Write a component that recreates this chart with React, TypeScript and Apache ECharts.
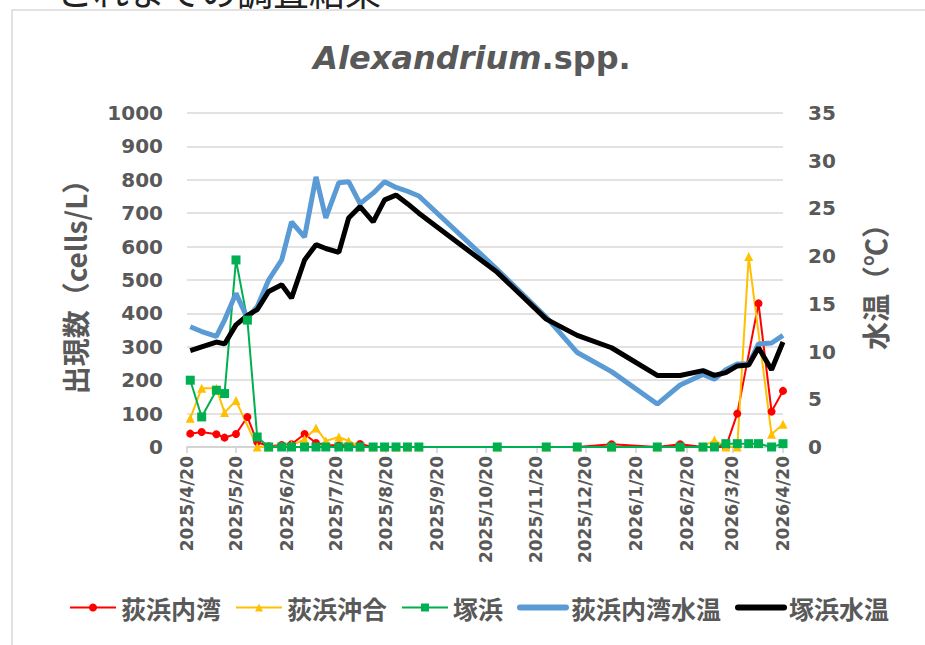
import React, { useEffect, useRef } from "react";
import * as echarts from "echarts";

// Sampling dates
const sampleDates = [
  "2025-04-22", "2025-04-29", "2025-05-08", "2025-05-13", "2025-05-20", "2025-05-27",
  "2025-06-02", "2025-06-09", "2025-06-17", "2025-06-23", "2025-07-01", "2025-07-08",
  "2025-07-14", "2025-07-22", "2025-07-28", "2025-08-04", "2025-08-12", "2025-08-19",
  "2025-08-26", "2025-09-02", "2025-09-09", "2025-10-27", "2025-11-26", "2025-12-15",
  "2026-01-05", "2026-02-02", "2026-02-16", "2026-03-02", "2026-03-09", "2026-03-16",
  "2026-03-23", "2026-03-30", "2026-04-05", "2026-04-13", "2026-04-20",
];

// 荻浜内湾 (cells/L)
const ogiInner = [
  40, 45, 38, 28, 39, 90, 15, 2, 6, 8, 39, 12, 6, 5, 5, 9, 0, 0, 0, 0, 0,
  0, 0, 0, 8, 0, 8, 0, 0, 0, 100, null, 430, 106, 168,
];
// 荻浜沖合 (cells/L)
const ogiOffshore = [
  86, 176, 176, 103, 139, null, 0, 0, 2, 5, 23, 57, 18, 30, 18, 0, 0, 0, 0, 0, 0,
  0, 0, 0, 0, 0, 0, 0, 21, 0, 0, 570, null, 38, 68,
];
// 塚浜 (cells/L)
const tsukahama = [
  200, 90, 170, 160, 560, 380, 30, 0, 0, 0, 0, 0, 0, 0, 0, 0, 0, 0, 0, 0, 0,
  0, 0, 0, 0, 0, 0, 0, 0, 10, 10, 10, 10, 0, 10,
];
// 荻浜内湾水温 (℃)
const ogiInnerTemp = [
  12.6, 12.1, 11.6, 13.3, 16.1, 13.5, 14.7, 17.5, 19.6, 23.6, 22.0, 28.3, 24.0, 27.7,
  27.8, 25.5, 26.6, 27.8, 27.2, 26.8, 26.3, 18.6, 13.6, 9.9, 7.9, 4.5, 6.5, 7.6, 7.1,
  8.1, 8.7, 8.7, 10.8, 10.9, 11.7,
];
// 塚浜水温 (℃)
const tsukaTemp = [
  10.1, 10.5, 11.0, 10.8, 12.8, 13.8, 14.4, 16.3, 17.0, 15.6, 19.6, 21.2, 20.8, 20.4,
  24.0, 25.2, 23.6, 25.9, 26.4, 25.5, 24.5, 18.3, 13.4, 11.7, 10.4, 7.5, 7.5, 8.0, 7.5,
  7.8, 8.5, 8.6, 10.4, 8.1, 11.0,
];

// Axis tick dates
const tickDates = [
  "2025-04-20", "2025-05-20", "2025-06-20", "2025-07-20", "2025-08-20", "2025-09-20",
  "2025-10-20", "2025-11-20", "2025-12-20", "2026-01-20", "2026-02-20", "2026-03-20",
  "2026-04-20",
];

const seriesNames = ["荻浜内湾", "荻浜沖合", "塚浜", "荻浜内湾水温", "塚浜水温"];
const titleMain = "Alexandrium";
const titleSuffix = ".spp.";
const headingText = "これまでの調査結果";
const leftAxisName = "出現数（cells/L）";
const rightAxisName = "水温（℃）";

const DAY = 86400000;
function utc(s: string): number {
  const [y, m, d] = s.split("-").map(Number);
  return Date.UTC(y, m - 1, d);
}
const BASE = utc(tickDates[0]);
function dayOf(s: string): number {
  return Math.round((utc(s) - BASE) / DAY);
}

function pairs(vals: (number | null)[]) {
  const out: [number, number][] = [];
  sampleDates.forEach((d, i) => {
    const v = vals[i];
    if (v !== null && v !== undefined) out.push([dayOf(d), v]);
  });
  return out;
}

const GRAY = "#595959";
const LAT = "DejaVu Sans, Noto Sans CJK JP, sans-serif";
const CJK = "Noto Sans CJK JP, DejaVu Sans, sans-serif";

export default function App() {
  const ref = useRef<HTMLDivElement>(null);
  useEffect(() => {
    if (!ref.current) return;
    const chart = echarts.init(ref.current, undefined, { renderer: "svg" });
    const ticks = tickDates.map(dayOf);
    const fmt = (v: number) => {
      const d = new Date(BASE + Math.round(v) * DAY);
      return `${d.getUTCFullYear()}/${d.getUTCMonth() + 1}/${d.getUTCDate()}`;
    };
    chart.setOption({
      animation: false,
      backgroundColor: "#ffffff",
      graphic: [
        {
          type: "rect",
          shape: { x: 12, y: 10, width: 1000, height: 800 },
          style: { fill: "none", stroke: "#d9d9d9", lineWidth: 1.5 },
          z: 0,
        },
        {
          type: "text",
          x: 57,
          y: 8,
          style: {
            text: headingText,
            font: `normal 36px ${CJK}`,
            fill: "#222222",
            textAlign: "left",
            textVerticalAlign: "bottom",
          },
        },
        {
          type: "text",
          x: 472,
          y: 58,
          style: {
            text: `{a|${titleMain}}{b|${titleSuffix}}`,
            textAlign: "center",
            textVerticalAlign: "middle",
            rich: {
              a: { fontFamily: LAT, fontSize: 32, fontWeight: "bold", fontStyle: "italic", fill: GRAY },
              b: { fontFamily: LAT, fontSize: 32, fontWeight: "bold", fill: GRAY },
            },
          },
        },
      ],
      legend: {
        left: 64,
        top: 590,
        itemGap: 14,
        itemWidth: 46,
        itemHeight: 10,
        textStyle: { color: GRAY, fontSize: 25, fontWeight: "bold", fontFamily: CJK },
        data: [
          { name: seriesNames[0], lineStyle: { width: 2 } },
          { name: seriesNames[1], lineStyle: { width: 2 } },
          { name: seriesNames[2], lineStyle: { width: 2 } },
          { name: seriesNames[3], itemStyle: { opacity: 0 }, lineStyle: { width: 6, cap: "round" } },
          { name: seriesNames[4], itemStyle: { opacity: 0 }, lineStyle: { width: 6, cap: "round" } },
        ],
      },
      grid: { left: 187, right: 142, top: 113, bottom: 198 },
      xAxis: {
        type: "value",
        min: ticks[0],
        max: ticks[ticks.length - 1],
        axisLine: { show: true, onZero: false, lineStyle: { color: "#d0d0d0", width: 1.5 } },
        axisTick: { show: true, customValues: ticks, length: 6, lineStyle: { color: "#d0d0d0", width: 1.5 } },
        axisLabel: {
          customValues: ticks,
          formatter: fmt,
          rotate: 90,
          margin: 9,
          color: GRAY,
          fontSize: 17,
          fontWeight: "bold",
          fontFamily: LAT,
          showMinLabel: true,
          showMaxLabel: true,
        },
        splitLine: { show: false },
      },
      yAxis: [
        {
          type: "value",
          min: 0,
          max: 1000,
          interval: 100,
          name: leftAxisName,
          nameLocation: "middle",
          nameGap: 98,
          nameTextStyle: { color: GRAY, fontSize: 28, fontWeight: "bold", fontFamily: CJK },
          axisLine: { show: false },
          axisTick: { show: false },
          axisLabel: {
            color: GRAY, fontSize: 20, fontWeight: "bold", fontFamily: LAT, margin: 24,
            formatter: (v: number) => String(v),
          },
          splitLine: { lineStyle: { color: "#d9d9d9", width: 1.5 } },
        },
        {
          type: "value",
          min: 0,
          max: 35,
          interval: 5,
          name: rightAxisName,
          nameLocation: "middle",
          nameGap: 78,
          nameTextStyle: { color: GRAY, fontSize: 28, fontWeight: "bold", fontFamily: CJK },
          axisLine: { show: false },
          axisTick: { show: false },
          axisLabel: {
            color: GRAY, fontSize: 20, fontWeight: "bold", fontFamily: LAT, margin: 25,
            formatter: (v: number) => String(v),
          },
          splitLine: { show: false },
        },
      ],
      series: [
        {
          name: seriesNames[0],
          type: "line",
          yAxisIndex: 0,
          data: pairs(ogiInner),
          connectNulls: true,
          symbol: "circle",
          symbolSize: 8,
          color: "#ff0000",
          lineStyle: { width: 2, color: "#ff0000" },
          itemStyle: { color: "#ff0000" },
        },
        {
          name: seriesNames[1],
          type: "line",
          yAxisIndex: 0,
          data: pairs(ogiOffshore),
          connectNulls: true,
          symbol: "triangle",
          symbolSize: 9,
          color: "#ffc000",
          lineStyle: { width: 2, color: "#ffc000" },
          itemStyle: { color: "#ffc000" },
        },
        {
          name: seriesNames[2],
          type: "line",
          yAxisIndex: 0,
          data: pairs(tsukahama),
          connectNulls: true,
          symbol: "rect",
          symbolSize: 9,
          color: "#00b050",
          lineStyle: { width: 2, color: "#00b050" },
          itemStyle: { color: "#00b050" },
        },
        {
          name: seriesNames[3],
          type: "line",
          yAxisIndex: 1,
          data: pairs(ogiInnerTemp),
          showSymbol: false,
          color: "#5b9bd5",
          lineStyle: { width: 5, color: "#5b9bd5" },
        },
        {
          name: seriesNames[4],
          type: "line",
          yAxisIndex: 1,
          data: pairs(tsukaTemp),
          showSymbol: false,
          color: "#000000",
          lineStyle: { width: 5, color: "#000000" },
        },
      ],
    });
    return () => chart.dispose();
  }, []);
  return (
    <div
      ref={ref}
      style={{ position: "fixed", left: 0, top: 0, width: 925, height: 645, background: "#fff" }}
    />
  );
}
